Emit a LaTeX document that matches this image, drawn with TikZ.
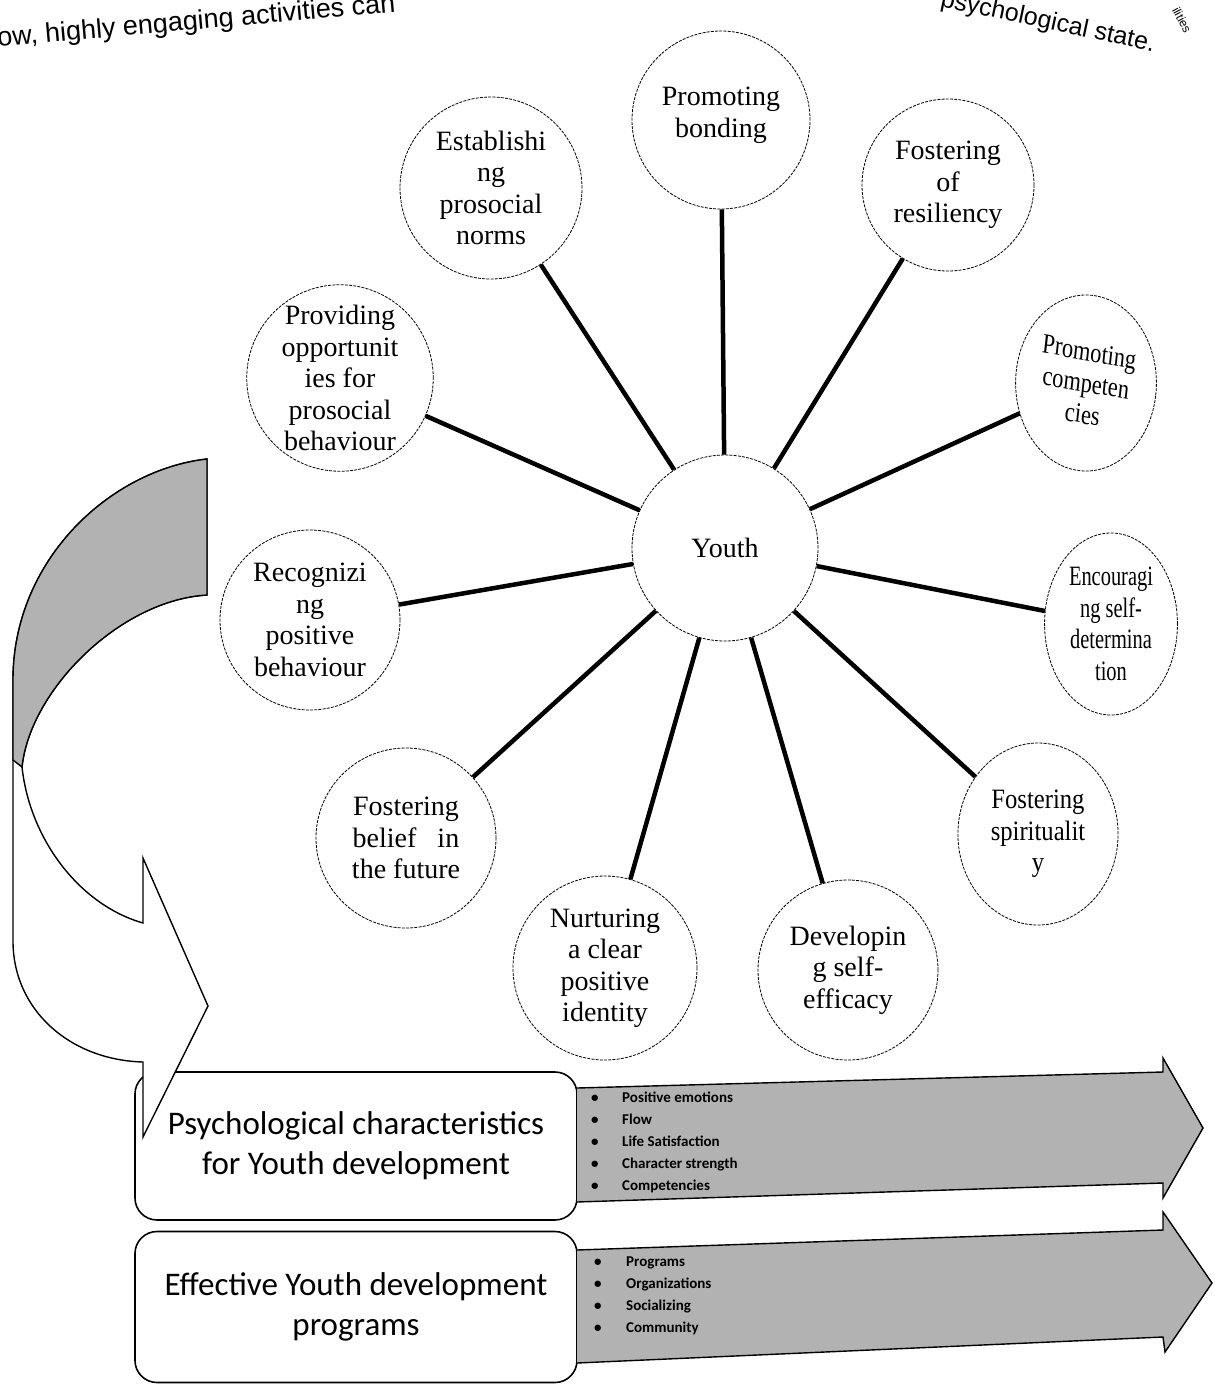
\documentclass[tikz,border=0pt]{standalone}
\usepackage{fontspec}
\setmainfont{Liberation Serif}
\newfontfamily\boxfont{Carlito}
\newfontfamily\pagefont{Liberation Sans}

\begin{document}
\begin{tikzpicture}[x=1pt,y=-1pt,
	topic/.style={circle,draw,dash pattern=on 3pt off 1.2pt,line width=0.8pt,minimum size=180pt,inner sep=0pt,align=center,font=\fontsize{28}{31.5}\selectfont},
	spoke/.style={line width=4.5pt},
	panel/.style={draw,rounded corners=22pt,line width=1.6pt,minimum width=442pt,align=center,font=\boxfont\fontsize{33}{40}\selectfont},
	band/.style={draw,line width=1.4pt,fill=black!30,line join=miter},
	items/.style={anchor=west,inner sep=0pt,align=left,font=\boxfont\bfseries\fontsize{15}{22}\selectfont}]

\useasboundingbox (0,0) rectangle (1215,1393);

\node[anchor=west,rotate=5,font=\pagefont\fontsize{27}{27}\selectfont]   (txtl) at (-6,40)   {ow, highly engaging activities can};
\node[anchor=east,rotate=-12,font=\pagefont\fontsize{25}{25}\selectfont]   (txtr) at (1158,46)   {psychological state.};
\node[rotate=-62,font=\pagefont\fontsize{12}{12}\selectfont]   (txtc) at (1182,20)   {ilities};

\node[topic,minimum size=186pt]   (youth) at (725,548)   {Youth};
\node[topic,minimum size=178pt]   (bond) at (721,120)   {Promoting\\bonding\\[-16pt]};
\node[topic,minimum size=172pt]   (resil) at (948,185)   {Fostering\\of\\resiliency};
\node[topic,minimum size=176pt,xscale=0.8,rotate=-8,transform shape]   (compet) at (1086,383)   {Promoting\\competen\\cies};
\node[topic,minimum size=182pt,xscale=0.73,transform shape]   (encour) at (1111,624)   {Encouragi\\ng self-\\determina\\tion};
\node[topic,minimum size=182pt,xscale=0.88,transform shape]   (spirit) at (1038,834)   {Fostering\\spiritualit\\y};
\node[topic]   (effic) at (848,970)   {Developin\\g self-\\efficacy};
\node[topic,minimum size=184pt]   (ident) at (605,968)   {Nurturing\\a clear\\positive\\identity};
\node[topic]   (belief) at (406,838)   {Fostering\\belief\ \ \ in\\the future};
\node[topic]   (recog) at (310,620)   {Recognizi\\ng\\positive\\behaviour};
\node[topic,minimum size=176pt]   (provid) at (340,378)   {Providing\\opportunit\\ies for\\prosocial\\behaviour};
\node[topic,minimum size=182pt]   (estab) at (491,188)   {Establishi\\ng\\prosocial\\norms};

\path[spoke] (youth) edge (bond)
			edge (resil)
			edge (compet)
			edge (encour)
			edge (spirit)
			edge (effic)
			edge (ident)
			edge (belief)
			edge (recog)
			edge (provid)
			edge (estab);

\node[panel,minimum height=148pt]   (psych) at (356,1146)   {Psychological characteristics\\for Youth development};
\node[panel,minimum height=151pt]   (progr) at (356,1307)   {Effective Youth development\\programs};

\filldraw[band] (577,1088) -- (1163,1072) -- (1163,1058) -- (1203,1128) -- (1163,1198) -- (1163,1183) -- (577,1202);
\filldraw[band] (577,1250) -- (1163,1230) -- (1163,1212) -- (1212,1283) -- (1165,1352) -- (1163,1337) -- (577,1363);

\node[items]   (traits) at (591,1142)   {\begin{tabular}{@{}p{31pt}@{}l@{}}
	\textbullet & Positive emotions\\
	\textbullet & Flow\\
	\textbullet & Life Satisfaction\\
	\textbullet & Character strength\\
	\textbullet & Competencies
	\end{tabular}};
\node[items]   (means) at (594,1295)   {\begin{tabular}{@{}p{32pt}@{}l@{}}
	\textbullet & Programs\\
	\textbullet & Organizations\\
	\textbullet & Socializing\\
	\textbullet & Community
	\end{tabular}};

\filldraw[fill=white,line width=1.4pt,line join=miter] (207,459) .. controls (110,470) and (13,560) .. (13,680) -- (13,941) .. controls (13,1010) and (70,1060) .. (143,1062) -- (143,1137) -- (208,1006) -- (143,858) -- (143,923) .. controls (80,905) and (30,840) .. (22,767) .. controls (30,690) and (120,600) .. (207,595) -- cycle;
\filldraw[band] (207,459) .. controls (110,470) and (13,560) .. (13,680) -- (13,760) -- (22,767) .. controls (30,690) and (120,600) .. (207,595) -- cycle;

\end{tikzpicture}
\end{document}
